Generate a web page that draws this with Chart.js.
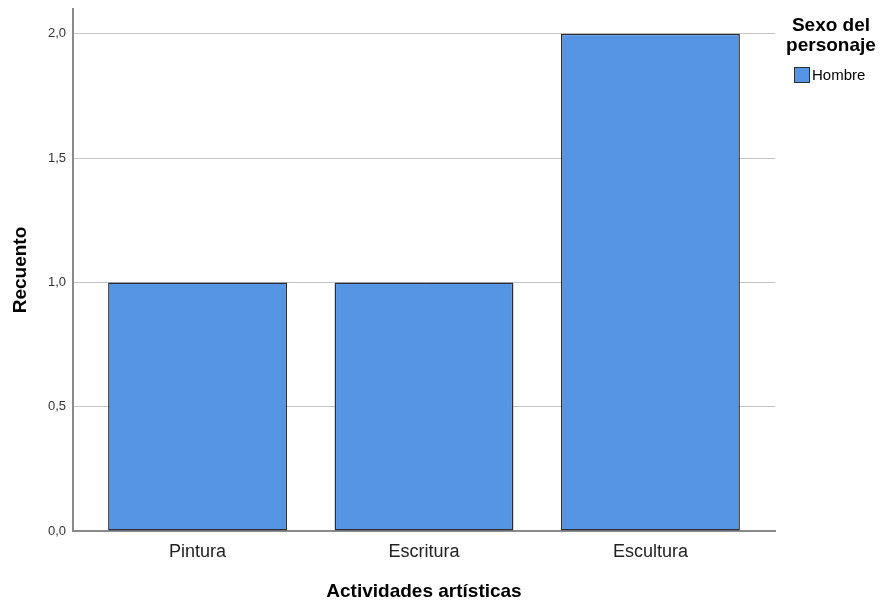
<!DOCTYPE html>
<html>
<head>
<meta charset="utf-8">
<script src="https://cdn.jsdelivr.net/npm/chart.js@4"></script>
<style>
	html, body { margin: 0; padding: 0; background: #ffffff; }
	#wrap { width: 881px; height: 602px; }
</style>
</head>
<body>
<div id="wrap"><canvas id="myChart" width="881" height="602"></canvas></div>
<script>
const categories = ['Pintura', 'Escritura', 'Escultura'];
const hombreCounts = [1, 1, 2];
const seriesLabel = 'Hombre';
const legendTitle = ['Sexo del', 'personaje'];
const yTicks = [0, 0.5, 1, 1.5, 2];

const barColor = '#5595e4';
const borderColor = '#2a2d36';
const font = "'Liberation Sans', Arial, sans-serif";

// legend drawn by hand, SPSS style (two-line bold title + small box)
const sideLegend = {
	id: 'sideLegend',
	afterDraw(chart) {
		const c = chart.ctx;
		c.save();
		c.fillStyle = '#000000';
		c.textAlign = 'center';
		c.textBaseline = 'middle';
		c.font = 'bold 19px ' + font;
		c.fillText(legendTitle[0], 831, 26);
		c.fillText(legendTitle[1], 831, 46);
		c.fillStyle = barColor;
		c.fillRect(795, 68, 14, 14);
		c.strokeStyle = borderColor;
		c.lineWidth = 1;
		c.strokeRect(794.5, 67.5, 15, 15);
		c.fillStyle = '#000000';
		c.textAlign = 'left';
		c.font = '15px ' + font;
		c.fillText(chart.data.datasets[0].label, 812, 76);
		c.restore();
	}
};

new Chart(document.getElementById('myChart'), {
	type: 'bar',
	data: {
		labels: categories,
		datasets: [{
			label: seriesLabel,
			data: categories.map((c, i) => ({ x: i, y: hombreCounts[i] })),
			backgroundColor: barColor,
			borderColor: borderColor,
			borderWidth: 1.5,
			borderSkipped: false,
			categoryPercentage: 1,
			barPercentage: 0.79,
		}]
	},
	options: {
		responsive: false,
		animation: false,
		plugins: {
			legend: { display: false },
			tooltip: { enabled: false },
		},
		layout: {
			padding: { top: 9, right: 106, bottom: 0, left: 0 }
		},
		scales: {
			y: {
				min: 0,
				max: 2.1,
				afterFit: s => { s.width = 73; s.paddingTop = 0; s.paddingBottom = 0; },
				afterBuildTicks: s => { s.ticks = yTicks.map(v => ({ value: v })); },
				ticks: {
					color: '#333333',
					padding: 7,
					font: { family: font, size: 13 },
					callback: v => v.toFixed(1).replace('.', ','),
				},
				grid: {
					color: '#c4c4c4',
					drawTicks: false,
				},
				border: { color: '#8a8a8a', width: 2 },
				title: {
					display: true,
					text: 'Recuento',
					color: '#000000',
					padding: { top: 9, bottom: 0 },
					font: { family: font, size: 19, weight: 'bold' },
				},
			},
			x: {
				type: 'linear',
				offset: false,
				min: -0.55,
				max: 2.55,
				afterFit: s => { s.height = 71; s.paddingLeft = 0; s.paddingRight = 0; },
				afterBuildTicks: s => { s.ticks = categories.map((c, i) => ({ value: i })); },
				ticks: {
					color: '#222222',
					padding: 10,
					font: { family: font, size: 18 },
					callback: v => categories[v],
				},
				grid: { display: false, drawTicks: false, offset: false },
				border: { color: '#8a8a8a', width: 2 },
				title: {
					display: true,
					text: 'Actividades artísticas',
					color: '#000000',
					align: 'center',
					padding: { top: 0, bottom: 0 },
					font: { family: font, size: 19, weight: 'bold', lineHeight: 1.1 },
				},
			}
		}
	},
	plugins: [sideLegend]
});
</script>
</body>
</html>
